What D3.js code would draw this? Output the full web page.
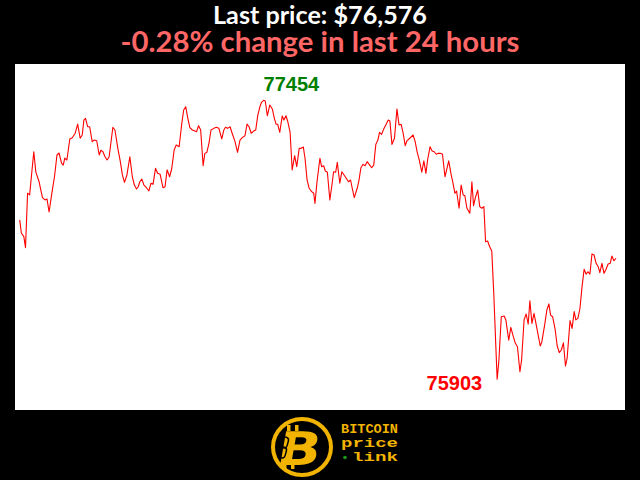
<!DOCTYPE html>
<html><head><meta charset="utf-8">
<script src="https://cdn.jsdelivr.net/npm/d3@7"></script>
<style>html,body{margin:0;padding:0;background:#000;overflow:hidden}svg{display:block}</style>
</head><body>
<script>
// minutes since start of the 24h window
const minutes = [0,4,10,14,19,24,34,39,47,50,55,61,66,71,77,84,90,95,101,105,109,114,121,127,134,140,146,151,155,159,164,169,175,180,186,192,196,201,206,211,216,225,230,237,243,248,253,259,266,272,277,282,286,
290,295,300,306,312,317,322,328,333,339,346,351,356,362,367,373,378,385,391,396,401,406,411,417,423,427,432,437,443,447,452,457,462,469,475,481,488,493,497,502,508,513,520,526,532,538,544,549,554,559,565,570,575,580,
584,589,593,598,604,610,615,619,623,628,634,638,643,647,653,658,664,669,675,680,685,689,694,699,705,710,713,718,725,729,734,738,743,749,754,758,763,767,773,778,782,787,794,799,803,808,815,819,824,829,834,839,844,850,855,860,865,869,
874,879,885,890,894,899,905,911,916,921,926,931,935,942,950,955,960,965,971,976,981,985,991,996,1001,1006,1011,1016,1021,1027,1031,1036,1042,1046,1051,1055,1061,1066,1071,1075,1080,1087,1092,1096,1101,1106,1111,1116,1121,1125,1130,1135,1140,1145,1150,1153,
1157,1163,1170,1174,1181,1186,1192,1197,1202,1208,1212,1218,1223,1228,1232,1237,1242,1249,1257,1261,1268,1273,1278,1282,1287,1293,1298,1303,1308,1313,1318,1322,1329,1334,1339,1343,1348,1353,1358,1363,1368,1372,1377,1382,1387,1392,1397,1401,1406,1411,1416,1421,1426,1430,1435,1440];
// BTC price (USD)
const prices = [76789,76716,76696,76635,76937,76928,77168,77055,77000,76966,76913,76900,76905,76833,76928,77029,77150,77161,77105,77094,77133,77122,77239,77246,77271,77322,77243,77261,77344,77354,77307,77307,77224,77233,77229,77150,77176,77168,77140,77122,77140,77304,77289,77187,77113,77039,76998,77039,77140,77029,76983,76961,76972,
77001,77016,76983,76968,76950,76993,76987,77076,77048,77043,76968,76974,77067,77029,77072,77178,77206,77196,77317,77400,77418,77354,77302,77289,77283,77279,77313,77289,77090,77159,77165,77215,77289,77298,77304,77298,77239,77289,77304,77298,77307,77271,77224,77165,77233,77248,77257,77322,77307,77271,77283,77289,77372,77418,
77443,77454,77450,77368,77428,77406,77354,77321,77321,77276,77367,77344,77368,77339,77276,77067,77146,77085,77187,77187,77194,77132,77011,76965,76946,76937,76881,77001,77132,77085,77090,77061,77054,76900,76983,77057,77054,77109,76993,77057,77043,77026,77001,77011,76965,76913,76965,77005,77079,77098,77090,77113,77098,77079,77094,77209,77233,77276,
77265,77294,77321,77344,77339,77209,77243,77406,77317,77321,77271,77202,77228,77243,77261,77224,77165,77122,77054,77117,77048,77122,77196,77172,77168,77154,77159,77159,77154,77029,77067,77117,77039,76998,76937,76950,76854,76983,76928,76924,76854,76826,77001,76868,76918,76955,76863,76854,76863,76668,76672,76640,76616,76372,76075,75903,
76001,76251,76255,76233,76121,76192,76140,76103,76084,75945,76010,76233,76266,76210,76340,76214,76270,76186,76088,76112,76210,76288,76322,76260,76251,76181,76088,76051,76066,76106,75977,76020,76229,76186,76279,76233,76242,76298,76418,76515,76487,76501,76488,76600,76594,76548,76529,76496,76548,76492,76515,76544,76548,76588,76562,76576];

const titleLine1 = "Last price: $76,576";
const titleLine2 = "-0.28% change in last 24 hours";
const logoLines = ["BITCOIN", "price", "link"];

const W = 640, H = 480;
const svg = d3.select("body").append("svg").attr("width", W).attr("height", H);
svg.append("rect").attr("width", W).attr("height", H).attr("fill", "#000");

// white plot panel
svg.append("rect").attr("x", 15).attr("y", 64).attr("width", 610).attr("height", 346).attr("fill", "#fff");

const data = minutes.map((m, i) => ({m, p: prices[i]}));
const [pMin, pMax] = d3.extent(prices);
const x = d3.scaleLinear().domain([0, 1440]).range([19.7, 616]);
const y = d3.scaleLinear().domain([pMin, pMax]).range([379.3, 100.3]);

svg.append("path").datum(data)
  .attr("fill", "none").attr("stroke", "#ff0000").attr("stroke-width", 1.1)
  .attr("stroke-linejoin", "round")
  .attr("d", d3.line().x(d => x(d.m)).y(d => y(d.p)));

const maxD = data.find(d => d.p === pMax), minD = data.find(d => d.p === pMin);
svg.append("text").attr("x", x(maxD.m)).attr("y", y(maxD.p) - 9)
  .attr("fill", "#008000").attr("font-family", "Liberation Sans, Arial, sans-serif")
  .attr("font-weight", "bold").attr("font-size", 20).text(pMax);
svg.append("text").attr("x", x(minD.m) - 15).attr("y", y(minD.p) + 11).attr("text-anchor", "end")
  .attr("fill", "#ff0000").attr("font-family", "Liberation Sans, Arial, sans-serif")
  .attr("font-weight", "bold").attr("font-size", 20).text(pMin);

// titles
function fitText(sel, target) {
  const len = sel.node().getComputedTextLength();
  const fs = parseFloat(sel.attr("font-size"));
  sel.attr("font-size", fs * target / len);
}
const t1 = svg.append("text").attr("x", 320).attr("y", 24).attr("text-anchor", "middle")
  .attr("fill", "#fff").attr("font-family", "Lato, sans-serif").attr("font-weight", "bold")
  .attr("font-size", 24).text(titleLine1);
fitText(t1, 214);
const t2 = svg.append("text").attr("x", 320).attr("y", 52).attr("text-anchor", "middle")
  .attr("fill", "#ff6666").attr("font-family", "Lato, sans-serif").attr("font-weight", "bold")
  .attr("font-size", 27).text(titleLine2);
fitText(t2, 399);

// logo
const gold = "#f2b400";
const logo = svg.append("g");
logo.append("ellipse").attr("cx", 302).attr("cy", 447).attr("rx", 29).attr("ry", 28)
  .attr("fill", "none").attr("stroke", gold).attr("stroke-width", 4);
// bitcoin bars
[[287, 425], [295, 425], [283, 463], [291, 463]].forEach(([bx, by]) => {
  logo.append("rect").attr("x", bx).attr("y", by).attr("width", 3.5).attr("height", 6).attr("fill", gold);
});
logo.append("text").attr("x", 0).attr("y", 0)
  .attr("transform", "translate(275,465) skewX(-10) scale(1.3,1.05)")
  .attr("fill", gold).attr("font-family", "DejaVu Sans, sans-serif").attr("font-weight", "bold")
  .attr("font-size", 44).text("B");
// chain link on stem
logo.append("rect").attr("x", 282).attr("y", 437).attr("width", 6).attr("height", 11).attr("rx", 3)
  .attr("fill", "none").attr("stroke", "#000").attr("stroke-width", 1.5).attr("transform", "rotate(15,285,442)");
logo.append("rect").attr("x", 280).attr("y", 447).attr("width", 6).attr("height", 11).attr("rx", 3)
  .attr("fill", "none").attr("stroke", "#000").attr("stroke-width", 1.5).attr("transform", "rotate(15,283,452)");

const mono = "Liberation Mono, DejaVu Sans Mono, monospace";
logo.append("text").attr("x", 341).attr("y", 433).attr("fill", gold).attr("font-family", mono)
  .attr("font-weight", "bold").attr("font-size", 12).attr("textLength", 57).attr("lengthAdjust", "spacingAndGlyphs")
  .text(logoLines[0]);
logo.append("text").attr("x", 341).attr("y", 447).attr("fill", gold).attr("font-family", mono)
  .attr("font-weight", "bold").attr("font-size", 13).attr("textLength", 57).attr("lengthAdjust", "spacingAndGlyphs")
  .text(logoLines[1]);
logo.append("circle").attr("cx", 345).attr("cy", 457.5).attr("r", 1.8).attr("fill", "#1a9a1a");
logo.append("text").attr("x", 352).attr("y", 461).attr("fill", gold).attr("font-family", mono)
  .attr("font-weight", "bold").attr("font-size", 13).attr("textLength", 46).attr("lengthAdjust", "spacingAndGlyphs")
  .text(logoLines[2]);
</script>
</body></html>
